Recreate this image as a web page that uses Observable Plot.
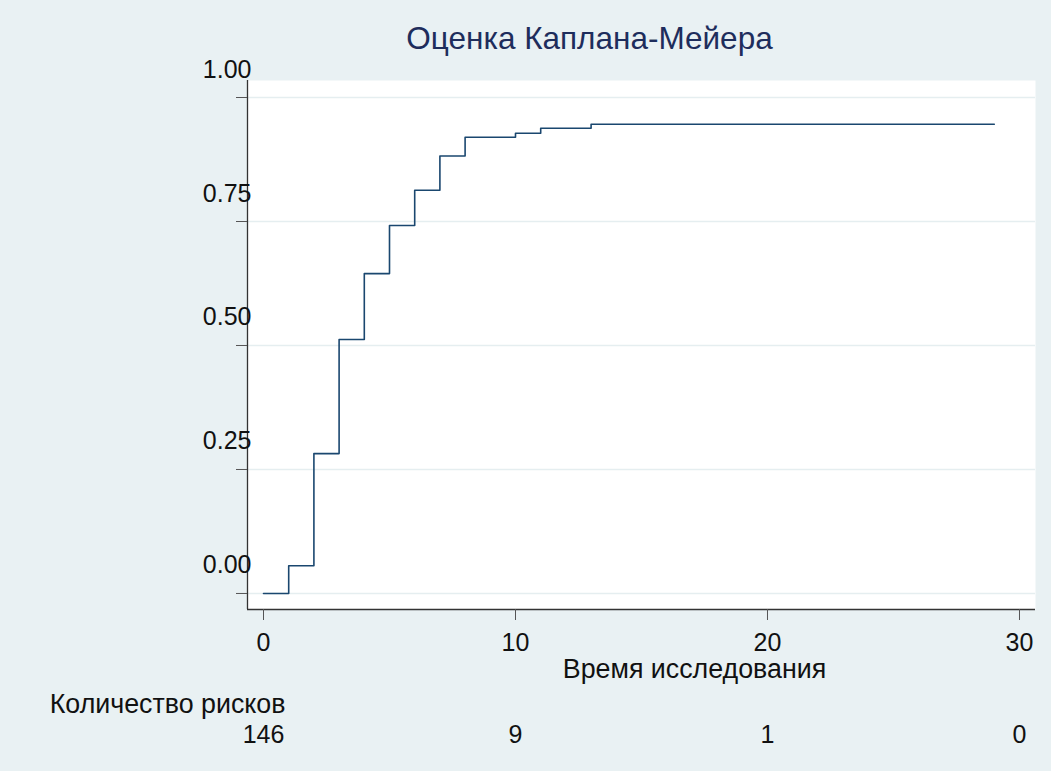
<!DOCTYPE html>
<html>
<head>
<meta charset="utf-8">
<script src="https://cdn.jsdelivr.net/npm/d3@7"></script>
<script src="https://cdn.jsdelivr.net/npm/@observablehq/plot@0.6"></script>
<style>
  html, body { margin: 0; padding: 0; background: #e9f1f3; }
  #chart svg { display: block; }
</style>
</head>
<body>
<div id="chart"></div>
<script>
// ---- data ----
const titleText = "Оценка Каплана-Мейера";
const xLabel = "Время исследования";
const riskLabel = "Количество рисков";
const times = [0, 1, 2, 3, 4, 5, 6, 7, 8, 10, 11, 13, 29];
const failure = [0, 0.056, 0.282, 0.512, 0.645, 0.742, 0.813, 0.882, 0.920, 0.928, 0.938, 0.946, 0.946];
const xTicks = [0, 10, 20, 30];
const yTicks = [0, 0.25, 0.5, 0.75, 1];
const riskTimes = [0, 10, 20, 30];
const riskCounts = [146, 9, 1, 0];

const rows = times.map((t, i) => ({t, f: failure[i]}));
const xDomain = [-0.635, 30.635];
const yDomain = [-0.0323, 1.0343];

const chart = Plot.plot({
  width: 1051,
  height: 771,
  marginLeft: 247,
  marginRight: 16,
  marginTop: 80,
  marginBottom: 162,
  style: {background: "#e9f1f3", color: "#111", fontFamily: "'Liberation Sans', Arial, sans-serif", fontSize: "25px"},
  x: {domain: xDomain},
  y: {domain: yDomain},
  marks: [
    Plot.frame({fill: "white", stroke: "none"}),
    Plot.gridY(yTicks, {stroke: "#e5eef0", strokeOpacity: 1, strokeWidth: 1.5}),
    Plot.line(rows, {x: "t", y: "f", curve: "step-after", stroke: "#1a476f", strokeWidth: 1.6}),
    Plot.ruleX([xDomain[0]], {stroke: "#333", strokeWidth: 1.3}),
    Plot.ruleY([yDomain[0]], {stroke: "#333", strokeWidth: 1.3}),
    Plot.axisY(yTicks, {tickSize: 11, tickFormat: () => "", stroke: "#555", label: null}),
    Plot.text(yTicks, {y: d => d, text: d => d.toFixed(2), frameAnchor: "left", textAnchor: "end", lineAnchor: "bottom", dx: 4, dy: -20, fontSize: 25, fill: "#111"}),
    Plot.axisX(xTicks, {tickSize: 11, tickPadding: 13, fontSize: 25, stroke: "#555", fill: "#111", label: null}),
    Plot.text([xLabel], {frameAnchor: "bottom", dx: 53, dy: 68, lineAnchor: "bottom", fontSize: 26.8, fill: "#111"}),
    Plot.text([riskLabel], {x: () => riskTimes[0], frameAnchor: "bottom", textAnchor: "end", dx: 22, dy: 103, lineAnchor: "bottom", fontSize: 26.8, fill: "#111"}),
    Plot.text(riskTimes, {x: d => d, text: (d, i) => String(riskCounts[i]), frameAnchor: "bottom", dy: 133, lineAnchor: "bottom", fontSize: 25, fill: "#111"}),
    Plot.text([titleText], {frameAnchor: "top", dx: -52, dy: -32, lineAnchor: "bottom", fontSize: 31.5, fill: "#1e2d5c"})
  ]
});
document.getElementById("chart").appendChild(chart);
</script>
</body>
</html>
